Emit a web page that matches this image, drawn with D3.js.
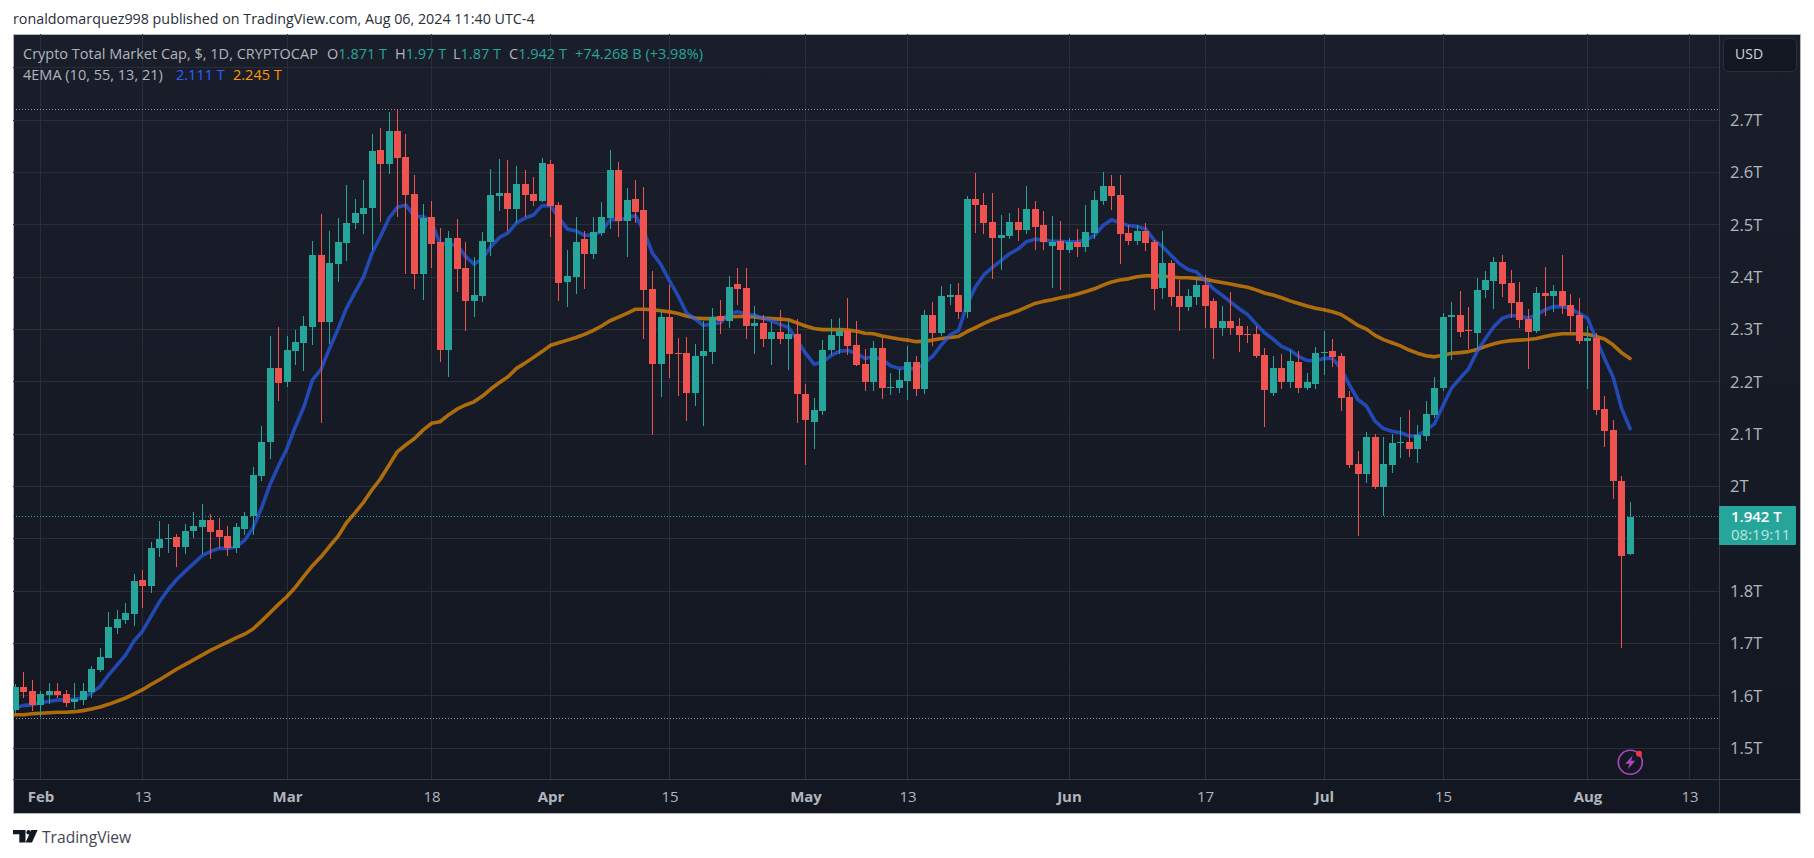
<!DOCTYPE html>
<html lang="en">
<head>
    <meta charset="utf-8">
    <title>Crypto Total Market Cap</title>
    <script src="https://d3js.org/d3.v7.min.js"></script>
    <style>
        html, body { margin: 0; padding: 0; background: #fff; }
        svg { display: block; }
        text { font-family: "Open Sans", "Noto Sans", sans-serif; }
    </style>
</head>

<body>
<svg width="1814" height="858"></svg>
<script>
    // daily candles, in trillions (29 Jan - 6 Aug 2024)
    var opens = [
        1.574,1.618,1.610,
        1.583,1.601,1.610,1.603,1.589,1.593,1.608,1.650,1.673,1.729,1.746,1.757,1.822,1.811,1.883,1.899,1.903,1.885,1.916,1.922,1.937,1.918,1.906,1.883,1.920,1.943,2.020,2.085,2.227,
        2.200,2.259,2.275,2.305,2.443,2.315,2.426,2.466,2.504,2.521,2.533,2.643,2.617,2.680,2.630,2.559,2.406,2.515,2.468,2.261,2.475,2.418,2.355,2.364,2.468,2.555,2.561,2.531,2.578,2.559,2.546,
        2.617,2.538,2.391,2.401,2.473,2.445,2.485,2.513,2.605,2.508,2.550,2.529,2.378,2.234,2.324,2.255,2.255,2.179,2.250,2.257,2.326,2.317,2.387,2.380,2.307,2.313,2.282,2.296,2.282,2.292,
        2.177,2.124,2.145,2.261,2.288,2.298,2.271,2.234,2.200,2.265,2.189,2.189,2.202,2.238,2.187,2.328,2.294,2.362,2.366,2.334,2.549,2.539,2.505,2.476,2.478,2.505,2.490,2.530,2.499,2.459,2.469,
        2.452,2.467,2.457,2.484,2.545,2.574,2.557,2.484,2.469,2.488,2.467,2.379,2.427,2.364,2.343,2.362,2.385,2.354,2.303,2.316,2.306,2.291,2.291,2.251,2.178,2.226,2.199,2.239,2.188,2.197,
        2.255,2.259,2.249,2.171,2.043,2.024,2.094,1.999,2.041,2.083,2.085,2.071,2.096,2.136,2.188,2.324,2.328,2.299,2.294,2.376,2.393,2.429,2.389,2.353,2.320,2.298,2.370,2.364,2.374,2.347,2.328,
        2.278,2.284,2.148,2.108,2.011,1.871
    ];
    var highs = [
        1.622,1.646,1.631,
        1.610,1.624,1.624,1.612,1.625,1.625,1.658,1.692,1.761,1.765,1.778,1.834,1.841,1.895,1.935,1.929,1.910,1.929,1.952,1.966,1.947,1.941,1.924,1.931,1.952,2.037,2.116,2.288,2.305,
        2.288,2.299,2.326,2.469,2.521,2.489,2.513,2.576,2.550,2.586,2.674,2.685,2.716,2.722,2.674,2.596,2.540,2.546,2.494,2.489,2.511,2.468,2.439,2.487,2.607,2.626,2.624,2.613,2.605,2.592,2.628,
        2.624,2.544,2.452,2.515,2.489,2.515,2.544,2.643,2.620,2.571,2.586,2.573,2.412,2.336,2.385,2.284,2.286,2.273,2.317,2.341,2.357,2.403,2.418,2.418,2.345,2.328,2.315,2.338,2.317,2.320,
        2.196,2.169,2.280,2.320,2.322,2.361,2.317,2.263,2.278,2.286,2.217,2.225,2.269,2.250,2.338,2.353,2.383,2.387,2.389,2.556,2.599,2.562,2.562,2.520,2.522,2.532,2.574,2.545,2.526,2.517,2.507,
        2.476,2.492,2.538,2.564,2.601,2.595,2.595,2.499,2.499,2.503,2.471,2.488,2.433,2.394,2.377,2.398,2.404,2.360,2.345,2.371,2.322,2.306,2.306,2.264,2.249,2.253,2.262,2.260,2.218,2.266,
        2.297,2.283,2.255,2.182,2.069,2.104,2.100,2.094,2.100,2.134,2.146,2.117,2.163,2.209,2.331,2.353,2.374,2.343,2.399,2.412,2.439,2.443,2.414,2.391,2.340,2.382,2.420,2.385,2.443,2.368,2.361,
        2.307,2.294,2.173,2.127,2.020,1.970
    ];
    var lows = [
        1.568,1.596,1.572,
        1.559,1.585,1.597,1.578,1.576,1.583,1.597,1.646,1.673,1.719,1.738,1.734,1.769,1.796,1.866,1.874,1.847,1.872,1.901,1.872,1.862,1.882,1.868,1.874,1.908,1.908,2.010,2.053,2.164,
        2.190,2.232,2.221,2.271,2.122,2.273,2.391,2.431,2.492,2.483,2.452,2.506,2.597,2.515,2.406,2.378,2.357,2.418,2.238,2.210,2.372,2.297,2.324,2.353,2.441,2.527,2.489,2.504,2.515,2.536,2.544,
        2.477,2.355,2.343,2.368,2.378,2.435,2.479,2.492,2.477,2.439,2.504,2.282,2.099,2.171,2.208,2.173,2.125,2.154,2.116,2.234,2.292,2.303,2.347,2.282,2.254,2.267,2.232,2.273,2.223,2.122,
        2.041,2.072,2.137,2.252,2.254,2.252,2.231,2.183,2.183,2.167,2.175,2.179,2.166,2.173,2.177,2.269,2.288,2.347,2.320,2.322,2.484,2.482,2.397,2.414,2.474,2.469,2.482,2.453,2.452,2.380,2.376,
        2.446,2.438,2.448,2.473,2.538,2.528,2.425,2.461,2.461,2.450,2.337,2.358,2.345,2.297,2.335,2.348,2.303,2.243,2.287,2.289,2.257,2.274,2.245,2.113,2.174,2.186,2.188,2.178,2.184,2.186,
        2.213,2.228,2.144,2.035,1.905,2.006,1.995,1.943,2.027,2.054,2.056,2.045,2.088,2.132,2.182,2.242,2.286,2.263,2.263,2.361,2.340,2.362,2.322,2.303,2.225,2.294,2.326,2.334,2.330,2.296,2.273,
        2.187,2.137,2.076,1.976,1.692,1.870
    ];
    var closes = [
        1.618,1.608,1.583,
        1.603,1.610,1.601,1.587,1.595,1.610,1.652,1.675,1.731,1.748,1.759,1.820,1.811,1.883,1.899,1.901,1.885,1.916,1.924,1.937,1.914,1.903,1.883,1.922,1.943,2.022,2.085,2.227,2.198,
        2.261,2.276,2.307,2.443,2.315,2.427,2.468,2.504,2.523,2.533,2.641,2.617,2.680,2.628,2.557,2.406,2.513,2.464,2.261,2.475,2.416,2.355,2.366,2.469,2.557,2.561,2.531,2.578,2.557,2.546,2.618,
        2.536,2.389,2.403,2.468,2.445,2.487,2.515,2.605,2.508,2.548,2.525,2.376,2.234,2.324,2.254,2.254,2.179,2.250,2.259,2.324,2.317,2.382,2.378,2.307,2.313,2.282,2.296,2.282,2.292,2.177,
        2.127,2.147,2.261,2.290,2.298,2.269,2.232,2.200,2.265,2.189,2.190,2.204,2.238,2.187,2.328,2.294,2.364,2.366,2.334,2.549,2.538,2.503,2.476,2.480,2.505,2.490,2.530,2.496,2.467,2.467,2.452,
        2.467,2.457,2.486,2.547,2.574,2.555,2.482,2.469,2.488,2.465,2.377,2.427,2.362,2.343,2.364,2.385,2.345,2.303,2.316,2.304,2.289,2.289,2.249,2.184,2.226,2.199,2.241,2.188,2.199,2.255,
        2.257,2.247,2.169,2.041,2.024,2.094,1.999,2.043,2.083,2.085,2.071,2.098,2.138,2.188,2.325,2.328,2.296,2.298,2.376,2.395,2.429,2.387,2.351,2.319,2.296,2.370,2.364,2.374,2.345,2.326,2.278,
        2.284,2.147,2.106,2.011,1.867,1.942
    ];
    var ema10 = [
        1.577,1.582,1.583,
        1.587,1.590,1.592,1.593,1.594,1.596,1.606,1.618,1.640,1.659,1.678,1.705,1.724,1.752,1.780,1.803,1.822,1.838,1.853,1.868,1.876,1.882,1.882,1.885,1.897,1.921,1.959,2.004,2.040,
        2.073,2.115,2.153,2.204,2.224,2.264,2.301,2.341,2.371,2.401,2.446,2.478,2.513,2.534,2.538,2.516,2.516,2.506,2.464,2.463,2.462,2.440,2.425,2.436,2.459,2.476,2.485,2.504,2.513,2.519,2.537,
        2.537,2.513,2.492,2.489,2.480,2.481,2.487,2.510,2.510,2.513,2.518,2.487,2.446,2.424,2.393,2.365,2.332,2.320,2.308,2.311,2.313,2.330,2.334,2.330,2.328,2.322,2.317,2.310,2.304,2.280,
        2.255,2.234,2.238,2.250,2.259,2.260,2.255,2.245,2.248,2.243,2.231,2.226,2.227,2.224,2.236,2.250,2.271,2.290,2.298,2.347,2.382,2.405,2.419,2.432,2.445,2.454,2.468,2.473,2.471,2.469,2.469,
        2.468,2.468,2.471,2.480,2.499,2.510,2.504,2.499,2.497,2.493,2.471,2.459,2.442,2.426,2.415,2.410,2.394,2.378,2.366,2.353,2.340,2.329,2.311,2.294,2.282,2.268,2.261,2.249,2.241,2.241,
        2.245,2.245,2.225,2.194,2.166,2.154,2.125,2.111,2.106,2.103,2.097,2.097,2.108,2.120,2.155,2.188,2.207,2.225,2.258,2.283,2.306,2.322,2.327,2.326,2.322,2.328,2.338,2.344,2.344,2.341,2.331,
        2.322,2.283,2.245,2.210,2.150,2.111
    ];
    var ema55 = [
        1.564,1.564,1.566,
        1.567,1.568,1.569,1.569,1.570,1.572,1.575,1.579,1.584,1.590,1.596,1.604,1.612,1.622,1.631,1.641,1.651,1.660,1.669,1.678,1.687,1.695,1.703,1.711,1.718,1.728,1.743,1.759,1.775,
        1.790,1.808,1.829,1.849,1.866,1.886,1.905,1.931,1.950,1.970,1.994,2.015,2.041,2.067,2.080,2.092,2.108,2.121,2.124,2.137,2.148,2.156,2.162,2.173,2.187,2.199,2.210,2.226,2.236,2.247,2.258,
        2.270,2.275,2.280,2.285,2.291,2.298,2.307,2.317,2.324,2.331,2.339,2.339,2.338,2.336,2.334,2.331,2.326,2.322,2.321,2.321,2.322,2.324,2.325,2.325,2.324,2.322,2.321,2.320,2.319,2.313,
        2.307,2.302,2.300,2.300,2.300,2.299,2.297,2.293,2.292,2.288,2.285,2.282,2.280,2.277,2.278,2.280,2.283,2.285,2.287,2.296,2.304,2.312,2.319,2.325,2.330,2.336,2.343,2.350,2.354,2.357,2.361,
        2.364,2.368,2.373,2.378,2.385,2.391,2.395,2.397,2.401,2.403,2.403,2.402,2.401,2.399,2.399,2.398,2.396,2.393,2.390,2.387,2.384,2.381,2.376,2.370,2.366,2.361,2.355,2.350,2.345,2.341,
        2.338,2.334,2.329,2.319,2.308,2.301,2.289,2.281,2.275,2.269,2.261,2.255,2.250,2.248,2.251,2.255,2.256,2.258,2.262,2.268,2.273,2.277,2.279,2.280,2.281,2.283,2.287,2.290,2.292,2.292,2.292,
        2.291,2.287,2.282,2.271,2.256,2.245
    ];

    var priceTicks = [2.7,2.6,2.5,2.4,2.3,2.2,2.1,2,1.8,1.7,1.6,1.5];
    var priceGrid = [2.8,2.7,2.6,2.5,2.4,2.3,2.2,2.1,2,1.9,1.8,1.7,1.6,1.5];
    var dateTicks = ["2024-02-01","2024-02-13","2024-03-01","2024-03-18","2024-04-01","2024-04-15","2024-05-01","2024-05-13","2024-06-01","2024-06-17","2024-07-01","2024-07-15","2024-08-01","2024-08-13"];
    var dateLabels = ["Feb","13","Mar","18","Apr","15","May","13","Jun","17","Jul","15","Aug","13"];
    var legendValues = ["1.871 T","1.97 T","1.87 T","1.942 T"];
    var highLine = 2.721, lowLine = 1.557;

    var marge = {top:34,right:1719.5,bottom:779,left:13};//plot area edges
    var days = d3.utcDay.range(new Date(Date.UTC(2024,0,29)), new Date(Date.UTC(2024,7,7)));
    var tickDates = dateTicks.map(function(d){ return new Date(d+"T00:00:00Z"); });

    var candles = days.map(function(d,i){
        return {date:d,o:opens[i],h:highs[i],l:lows[i],c:closes[i],e10:ema10[i],e55:ema55[i]};
    });

    var xScale = d3.scaleUtc()
        .domain([new Date(Date.UTC(2024,1,1)), new Date(Date.UTC(2024,7,13))])
        .range([40.5,1689.5]);
    var yScale = d3.scaleLinear()
        .domain([1.5,2.7])
        .range([748.3,120.3]);

    function snap(v){ return Math.floor(v)+0.5; }

    var svg = d3.select("svg");
    var defs = svg.append("defs");

    var grad = defs.append("linearGradient")
        .attr("id","panelBg")
        .attr("x1",0).attr("y1",0).attr("x2",0).attr("y2",1);
    grad.append("stop").attr("offset","0%").attr("stop-color","#1a1e2a");
    grad.append("stop").attr("offset","100%").attr("stop-color","#131722");

    defs.append("clipPath").attr("id","plotClip")
        .append("rect")
        .attr("x",marge.left)
        .attr("y",marge.top)
        .attr("width",marge.right-marge.left)
        .attr("height",marge.bottom-marge.top);

    // header line above the panel
    svg.append("text")
        .attr("x",13).attr("y",24)
        .attr("font-size",14.3)
        .attr("fill","#2a2e39")
        .text("ronaldomarquez998 published on TradingView.com, Aug 06, 2024 11:40 UTC-4");

    // panel
    svg.append("rect")
        .attr("x",13.5).attr("y",34.5)
        .attr("width",1787).attr("height",779)
        .attr("fill","url(#panelBg)")
        .attr("stroke","#b2b5be");

    // grid
    var gridG = svg.append("g").attr("shape-rendering","crispEdges").attr("stroke","#2a2e39");
    gridG.selectAll(".h").data(priceGrid).enter().append("line")
        .attr("x1",marge.left).attr("x2",marge.right)
        .attr("y1",function(d){ return snap(yScale(d)); })
        .attr("y2",function(d){ return snap(yScale(d)); });
    gridG.selectAll(".v").data(tickDates).enter().append("line")
        .attr("y1",marge.top).attr("y2",marge.bottom)
        .attr("x1",function(d){ return snap(xScale(d)); })
        .attr("x2",function(d){ return snap(xScale(d)); });

    // axis borders
    var borderG = svg.append("g").attr("shape-rendering","crispEdges").attr("stroke","#363a45");
    borderG.append("line").attr("x1",marge.right).attr("x2",marge.right).attr("y1",marge.top+1).attr("y2",813);
    borderG.append("line").attr("x1",marge.left).attr("x2",1800).attr("y1",marge.bottom+0.5).attr("y2",marge.bottom+0.5);

    var plot = svg.append("g").attr("clip-path","url(#plotClip)");

    // high / low / last price dotted lines
    [[highLine,"#9598a1"],[lowLine,"#9598a1"],[closes[closes.length-1],"#26a69a"]].forEach(function(p){
        plot.append("line")
            .attr("x1",marge.left).attr("x2",marge.right)
            .attr("y1",snap(yScale(p[0]))).attr("y2",snap(yScale(p[0])))
            .attr("stroke",p[1])
            .attr("stroke-dasharray","1,2");
    });

    // EMA lines go under the candles
    var lineE10 = d3.line()
        .x(function(d){ return xScale(d.date); })
        .y(function(d){ return yScale(d.e10); });
    var lineE55 = d3.line()
        .x(function(d){ return xScale(d.date); })
        .y(function(d){ return yScale(d.e55); });

    plot.append("path").datum(candles)
        .attr("d",lineE55)
        .attr("fill","none")
        .attr("stroke","#ff9800")
        .attr("stroke-opacity",0.65)
        .attr("stroke-width",3.6)
        .attr("stroke-linecap","round")
        .attr("stroke-linejoin","round");
    plot.append("path").datum(candles)
        .attr("d",lineE10)
        .attr("fill","none")
        .attr("stroke","#2962ff")
        .attr("stroke-opacity",0.65)
        .attr("stroke-width",3.6)
        .attr("stroke-linecap","round")
        .attr("stroke-linejoin","round");

    // candles
    var gs = plot.selectAll(".candle")
        .data(candles)
        .enter()
        .append("g")
        .attr("shape-rendering","crispEdges")
        .attr("fill",function(d){ return d.c>=d.o ? "#26a69a" : "#ef5350"; })
        .attr("stroke",function(d){ return d.c>=d.o ? "#26a69a" : "#ef5350"; });

    gs.append("line")
        .attr("x1",function(d){ return snap(xScale(d.date)); })
        .attr("x2",function(d){ return snap(xScale(d.date)); })
        .attr("y1",function(d){ return yScale(d.h); })
        .attr("y2",function(d){ return yScale(d.l); });

    gs.append("rect")
        .attr("stroke","none")
        .attr("x",function(d){ return snap(xScale(d.date))-3.5; })
        .attr("y",function(d){ return yScale(Math.max(d.o,d.c)); })
        .attr("width",7)
        .attr("height",function(d){ return Math.max(1,Math.abs(yScale(d.o)-yScale(d.c))); });

    // axes
    var yAxis = d3.axisRight(yScale)
        .tickValues(priceTicks)
        .tickSize(0)
        .tickPadding(0)
        .tickFormat(function(d){ return d+"T"; });
    var yG = svg.append("g")
        .attr("transform","translate(1730,0)")
        .call(yAxis);
    yG.select(".domain").remove();
    yG.selectAll("text").attr("font-size",16.5).attr("fill","#b2b5be")
        .style("font-family",'"Open Sans", sans-serif');

    var xAxis = d3.axisBottom(xScale)
        .tickValues(tickDates)
        .tickSize(0)
        .tickPadding(12)
        .tickFormat(function(d,i){ return dateLabels[i]; });
    var xG = svg.append("g")
        .attr("transform","translate(0,"+marge.bottom+")")
        .call(xAxis);
    xG.select(".domain").remove();
    xG.selectAll("text")
        .attr("font-size",15)
        .attr("fill","#b2b5be")
        .attr("font-weight",function(d,i){ return isNaN(+dateLabels[i]) ? 700 : 400; })
        .style("font-family",'"Open Sans", sans-serif');

    // legend
    var legend = svg.append("g").attr("font-size",14.5);
    legend.append("text").attr("x",23).attr("y",59).attr("fill","#b2b5be")
        .text("Crypto Total Market Cap, $, 1D, CRYPTOCAP");

    var ohlcNames = ["O","H","L","C"];
    var ohlcX = [327,395,453,509];
    ohlcNames.forEach(function(n,i){
        var t = legend.append("text").attr("x",ohlcX[i]).attr("y",59).attr("fill","#b2b5be").text(n);
        t.append("tspan").attr("fill","#26a69a").text(legendValues[i]);
    });
    legend.append("text").attr("x",575).attr("y",59).attr("fill","#26a69a").text("+74.268 B (+3.98%)");

    legend.append("text").attr("x",23).attr("y",80).attr("fill","#b2b5be").text("4EMA (10, 55, 13, 21)");
    legend.append("text").attr("x",176).attr("y",80).attr("fill","#2962ff").text("2.111 T");
    legend.append("text").attr("x",233).attr("y",80).attr("fill","#ff9800").text("2.245 T");

    // USD button
    svg.append("rect")
        .attr("x",1723.5).attr("y",38.5)
        .attr("width",73).attr("height",33)
        .attr("rx",5)
        .attr("fill","#131722")
        .attr("stroke","#2a2e39");
    svg.append("text").attr("x",1735).attr("y",59)
        .attr("font-size",14).attr("font-weight",500).attr("fill","#d1d4dc")
        .text("USD");

    // last price tag
    svg.append("rect")
        .attr("x",1719).attr("y",506)
        .attr("width",77).attr("height",39)
        .attr("rx",1)
        .attr("fill","#26a69a");
    svg.append("text").attr("x",1731).attr("y",522)
        .attr("font-size",15).attr("font-weight",600).attr("fill","#fff")
        .text("1.942 T");
    svg.append("text").attr("x",1731).attr("y",540)
        .attr("font-size",15).attr("fill","#fff").attr("fill-opacity",0.7)
        .text("08:19:11");

    // bolt badge
    var badge = svg.append("g").attr("transform","translate(1630.3,762.3)");
    badge.append("circle").attr("r",12)
        .attr("fill","none").attr("stroke","#ab47bc").attr("stroke-width",1.6);
    badge.append("path")
        .attr("d","M2.5,-7 L-5,1.5 L-0.8,1.5 L-2.5,7 L5,-1.5 L0.8,-1.5 Z")
        .attr("fill","#ab47bc");
    badge.append("circle").attr("cx",8.7).attr("cy",-8.5).attr("r",3).attr("fill","#f23645");

    // footer logo
    var logo = svg.append("g").attr("fill","#131722");
    logo.append("path").attr("d","M13,830 H25.5 V842.5 H19.3 V834.2 H13 Z");
    logo.append("circle").attr("cx",28.6).attr("cy",832.3).attr("r",2.2);
    logo.append("path").attr("d","M31.2,830 H37.6 L32,842.5 H25.6 Z");
    svg.append("text").attr("x",42).attr("y",843)
        .attr("font-size",15.6).attr("fill","#434651")
        .text("TradingView");
</script>
</body>

</html>
